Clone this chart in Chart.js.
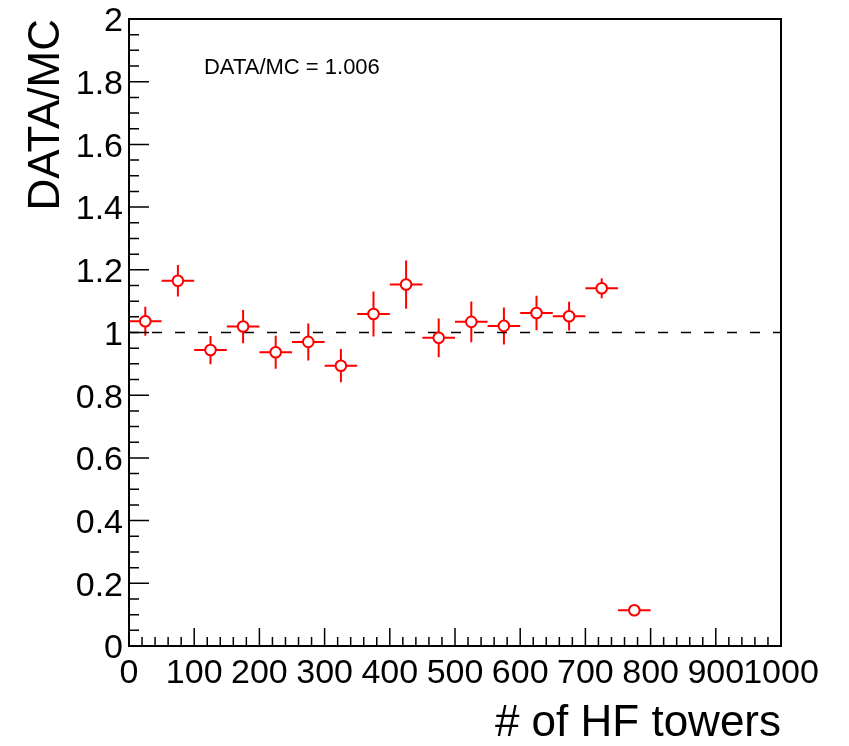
<!DOCTYPE html>
<html>
<head>
<meta charset="utf-8">
<script src="https://cdn.jsdelivr.net/npm/chart.js@4/dist/chart.umd.min.js"></script>
<style>
  body { margin: 0; background: #fff; }
  canvas { display: block; }
</style>
</head>
<body>
<canvas id="ratio" width="849" height="746"></canvas>
<script>
// bin centres (# of HF towers), bins are 50 wide
var binCenters = [25, 75, 125, 175, 225, 275, 325, 375, 425, 475, 525, 575, 625, 675, 725, 775];
var binWidth = 50;
var ratio    = [1.036, 1.165, 0.944, 1.019, 0.937, 0.970, 0.894, 1.059, 1.153, 0.983, 1.034, 1.021, 1.062, 1.052, 1.141, 0.114];
var ratioErr = [0.046, 0.050, 0.045, 0.053, 0.053, 0.059, 0.053, 0.072, 0.077, 0.062, 0.065, 0.059, 0.055, 0.046, 0.032, 0.015];
var refLine  = [1, 1];
var xTicks = [0, 100, 200, 300, 400, 500, 600, 700, 800, 900, 1000];
var yTicks = [0, 0.2, 0.4, 0.6, 0.8, 1, 1.2, 1.4, 1.6, 1.8, 2];
var fitText = "DATA/MC = 1.006";

var FONT = "'Liberation Sans', Arial, Helvetica, sans-serif";

var points = [];
for (var i = 0; i < binCenters.length; i++) {
  points.push({ x: binCenters[i], y: ratio[i], err: ratioErr[i] });
}

// error bars, drawn below the markers
var errorBars = {
  id: 'errorBars',
  beforeDatasetsDraw: function(chart) {
    var ctx = chart.ctx, xs = chart.scales.x, ys = chart.scales.y;
    ctx.save();
    ctx.strokeStyle = '#ff0000';
    ctx.lineWidth = 2;
    points.forEach(function(p) {
      var px = xs.getPixelForValue(p.x), py = ys.getPixelForValue(p.y);
      ctx.beginPath();
      ctx.moveTo(xs.getPixelForValue(p.x - binWidth / 2), py);
      ctx.lineTo(xs.getPixelForValue(p.x + binWidth / 2), py);
      ctx.moveTo(px, ys.getPixelForValue(p.y - p.err));
      ctx.lineTo(px, ys.getPixelForValue(p.y + p.err));
      ctx.stroke();
    });
    ctx.restore();
  }
};

// ROOT style frame with inward ticks, plus the fit text
var frame = {
  id: 'frame',
  afterDraw: function(chart) {
    var ctx = chart.ctx, a = chart.chartArea, xs = chart.scales.x, ys = chart.scales.y;
    ctx.save();
    ctx.strokeStyle = '#000';
    ctx.lineWidth = 1.5;
    ctx.beginPath();
    var v, p;
    for (v = 0; v <= 1000.001; v += 20) {
      p = xs.getPixelForValue(v);
      var len = (Math.round(v) % 100 === 0) ? 18 : 9;
      ctx.moveTo(p, a.bottom);
      ctx.lineTo(p, a.bottom - len);
    }
    for (v = 0; v <= 2.0001; v += 0.05) {
      p = ys.getPixelForValue(v);
      var major = Math.abs(v * 5 - Math.round(v * 5)) < 1e-6;
      ctx.moveTo(a.left, p);
      ctx.lineTo(a.left + (major ? 20 : 10), p);
    }
    ctx.stroke();
    ctx.lineWidth = 2;
    ctx.strokeRect(a.left, a.top, a.right - a.left, a.bottom - a.top);

    ctx.fillStyle = '#000';
    ctx.font = '22px ' + FONT;
    ctx.textBaseline = 'alphabetic';
    ctx.fillText(fitText, xs.getPixelForValue(115), ys.getPixelForValue(1.825));
    ctx.restore();
  }
};

new Chart(document.getElementById('ratio'), {
  type: 'scatter',
  data: {
    datasets: [{
      data: points,
      showLine: false,
      pointRadius: 5.3,
      pointHoverRadius: 5.3,
      pointBorderWidth: 2,
      pointBackgroundColor: '#ffffff',
      pointBorderColor: '#ff0000'
    }, {
      type: 'line',
      data: [{ x: 0, y: refLine[0] }, { x: 1000, y: refLine[1] }],
      borderColor: '#000',
      borderWidth: 1.6,
      borderDash: [10, 13],
      pointRadius: 0,
      fill: false
    }]
  },
  options: {
    responsive: false,
    animation: false,
    layout: { padding: { top: 19, right: 68, bottom: 0, left: 0 } },
    plugins: { legend: { display: false }, tooltip: { enabled: false } },
    scales: {
      x: {
        type: 'linear',
        min: 0, max: 1000,
        afterFit: function(s) { s.height = 100; s.paddingLeft = 0; s.paddingRight = 0; },
        afterBuildTicks: function(s) { s.ticks = xTicks.map(function(v) { return { value: v }; }); },
        grid: { display: false, drawTicks: false },
        border: { display: false },
        ticks: {
          color: '#000',
          font: { family: FONT, size: 34 },
          padding: 7,
          maxRotation: 0,
          autoSkip: false,
          callback: function(v) { return String(v); }
        },
        title: {
          display: true,
          text: '# of HF towers',
          align: 'end',
          color: '#000',
          font: { family: FONT, size: 44, lineHeight: 1 },
          padding: { top: 0, bottom: 0 }
        }
      },
      y: {
        min: 0, max: 2,
        afterFit: function(s) { s.width = 129; s.paddingTop = 0; s.paddingBottom = 0; },
        afterBuildTicks: function(s) { s.ticks = yTicks.map(function(v) { return { value: v }; }); },
        grid: { display: false, drawTicks: false },
        border: { display: false },
        ticks: {
          color: '#000',
          font: { family: FONT, size: 34 },
          padding: 6,
          labelOffset: 3,
          autoSkip: false,
          callback: function(v) { return String(+v.toFixed(1)); }
        },
        title: {
          display: true,
          text: 'DATA/MC',
          align: 'end',
          color: '#000',
          font: { family: FONT, size: 44, lineHeight: 1.2 },
          padding: { top: 20, bottom: 0 }
        }
      }
    }
  },
  plugins: [errorBars, frame]
});
</script>
</body>
</html>
